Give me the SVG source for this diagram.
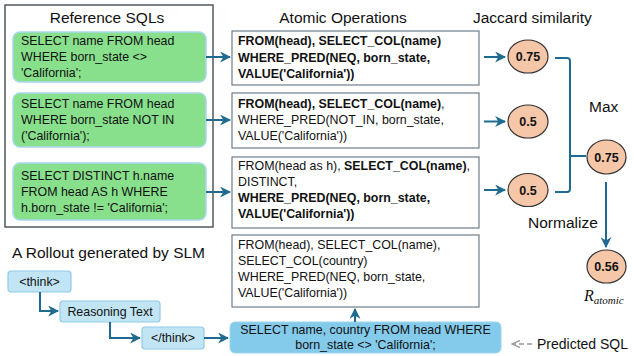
<svg xmlns="http://www.w3.org/2000/svg" width="634" height="356" viewBox="0 0 634 356">
<defs>
<marker id="ah" viewBox="0 0 10 10" refX="9" refY="5" markerWidth="5.5" markerHeight="5.5" orient="auto" markerUnits="strokeWidth"><path d="M0,0 L10,5 L0,10 L3,5 z" fill="#1f6a90"/></marker>
<marker id="ahg" viewBox="0 0 10 10" refX="9" refY="5" markerWidth="6" markerHeight="6" orient="auto" markerUnits="strokeWidth"><path d="M0,1 L9,5 L0,9" fill="none" stroke="#999" stroke-width="1.5"/></marker>
<style>
text{font-family:"Liberation Sans",Arial,sans-serif;fill:#111}
.t{font-size:15.5px}
.s{font-size:12.4px}
.b{font-weight:bold}
.green{fill:#88e08c;stroke:#a8d8ec;stroke-width:1.5}
.op{fill:#fff;stroke:#6e7d87;stroke-width:1.2}
.lb{fill:#c2e5f5;stroke:#8fcbe6;stroke-width:1.2}
.circ{fill:#f6c6a8;stroke:#333;stroke-width:1.2}
.c{fill:none;stroke:#1f6a90;stroke-width:2}
.num{font-size:12.5px;font-weight:bold;text-anchor:middle}
</style>
</defs>
<rect x="5" y="5" width="208" height="222" fill="none" stroke="#434c52" stroke-width="1.4"/>
<text class="t" x="107" y="23" text-anchor="middle">Reference SQLs</text>
<text class="t" x="343" y="23" text-anchor="middle">Atomic Operations</text>
<text class="t" x="473" y="23">Jaccard similarity</text>
<text class="t" x="12" y="258">A Rollout generated by SLM</text>

<g id="ref1"><rect class="green" x="13" y="32" width="193" height="50" rx="7"/>
<text class="s" x="21" y="45">SELECT name FROM head</text><text class="s" x="21" y="61">WHERE born_state &lt;&gt;</text><text class="s" x="21" y="77">'California';</text></g>
<g id="ref2"><rect class="green" x="13" y="93" width="193" height="54" rx="7"/>
<text class="s" x="21" y="108">SELECT name FROM head</text><text class="s" x="21" y="124">WHERE born_state NOT IN</text><text class="s" x="21" y="140">('California');</text></g>
<g id="ref3"><rect class="green" x="13" y="163" width="193" height="57" rx="7"/>
<text class="s" x="21" y="180">SELECT DISTINCT h.name</text><text class="s" x="21" y="196">FROM head AS h WHERE</text><text class="s" x="21" y="212">h.born_state != 'California';</text></g>

<g id="op1"><rect class="op" x="232" y="31" width="247" height="54"/>
<text class="s b" x="238" y="45">FROM(head), SELECT_COL(name)</text><text class="s b" x="238" y="62">WHERE_PRED(NEQ, born_state,</text><text class="s b" x="238" y="78">VALUE('California'))</text></g>
<g id="op2"><rect class="op" x="232" y="93" width="247" height="55"/>
<text class="s" x="238" y="108"><tspan class="b">FROM(head), SELECT_COL(name)</tspan>,</text><text class="s" x="238" y="124">WHERE_PRED(NOT_IN, born_state,</text><text class="s" x="238" y="140">VALUE('California'))</text></g>
<g id="op3"><rect class="op" x="232" y="157" width="247" height="71"/>
<text class="s" x="238" y="170">FROM(head as h), <tspan class="b">SELECT_COL(name)</tspan>,</text><text class="s" x="238" y="186">DISTINCT,</text><text class="s b" x="238" y="202">WHERE_PRED(NEQ, born_state,</text><text class="s b" x="238" y="218">VALUE('California'))</text></g>
<g id="op4"><rect class="op" x="232" y="235" width="247" height="72"/>
<text class="s" x="238" y="249">FROM(head), SELECT_COL(name),</text><text class="s" x="238" y="265">SELECT_COL(country)</text><text class="s" x="238" y="281">WHERE_PRED(NEQ, born_state,</text><text class="s" x="238" y="297">VALUE('California'))</text></g>

<g id="j1"><ellipse class="circ" cx="528" cy="56.5" rx="20" ry="16.5"/><text class="num" x="528" y="61">0.75</text></g>
<g id="j2"><ellipse class="circ" cx="528" cy="121.5" rx="20" ry="16.5"/><text class="num" x="528" y="126">0.5</text></g>
<g id="j3"><ellipse class="circ" cx="528" cy="190" rx="20" ry="16.5"/><text class="num" x="528" y="194.5">0.5</text></g>
<g id="max"><ellipse class="circ" cx="606.5" cy="157" rx="19.5" ry="17"/><text class="num" x="606.5" y="161.5">0.75</text></g>
<g id="ratomic"><ellipse class="circ" cx="606.5" cy="266.5" rx="19.5" ry="16.5"/><text class="num" x="606.5" y="271">0.56</text>
<text x="584" y="301" style="font-family:'Liberation Serif',serif;font-style:italic;font-size:16px">R<tspan font-size="11" dy="2.5">atomic</tspan></text></g>
<text class="t" x="589" y="112">Max</text>
<text class="t" x="528" y="228">Normalize</text>

<g id="think"><rect class="lb" x="8" y="271" width="63" height="21" rx="3"/><text class="s" x="39.5" y="286" text-anchor="middle">&lt;think&gt;</text></g>
<g id="reason"><rect class="lb" x="60" y="301" width="100" height="21" rx="3"/><text class="s" x="110" y="316" text-anchor="middle">Reasoning Text</text></g>
<g id="endthink"><rect class="lb" x="142" y="327" width="62" height="22" rx="3"/><text class="s" x="173" y="342" text-anchor="middle">&lt;/think&gt;</text></g>
<g id="pred"><rect x="230" y="322" width="271" height="31" rx="5" fill="#84cbeb" stroke="#9fd5ee" stroke-width="1"/>
<text class="s" x="365.5" y="334" text-anchor="middle">SELECT name, country FROM head WHERE</text><text class="s" x="365.5" y="349" text-anchor="middle">born_state &lt;&gt; 'California';</text></g>
<text x="537" y="349" style="font-size:14px">Predicted SQL</text>

<g id="connectors">
<path class="c" d="M206,57 H230" marker-end="url(#ah)"/>
<path class="c" d="M206,120 H230" marker-end="url(#ah)"/>
<path class="c" d="M206,192 H230" marker-end="url(#ah)"/>
<path class="c" d="M484,57 H505" marker-end="url(#ah)"/>
<path class="c" d="M484,121.5 H505" marker-end="url(#ah)"/>
<path class="c" d="M484,190 H505" marker-end="url(#ah)"/>
<path class="c" d="M555,58 H567 Q570,58 570,61 V189 Q570,192 567,192 H555"/>
<path class="c" d="M570,156 H586"/>
<path class="c" d="M606,182 V247" marker-end="url(#ah)"/>
<path class="c" d="M40,292 V311 H58" marker-end="url(#ah)"/>
<path class="c" d="M110,322 V338 H140" marker-end="url(#ah)"/>
<path class="c" d="M204,338 H228" marker-end="url(#ah)"/>
<path class="c" d="M355,322 V309" marker-end="url(#ah)"/>
<path d="M532,344 H512" fill="none" stroke="#999" stroke-width="1.5" stroke-dasharray="5,3" marker-end="url(#ahg)"/>
</g>
</svg>
